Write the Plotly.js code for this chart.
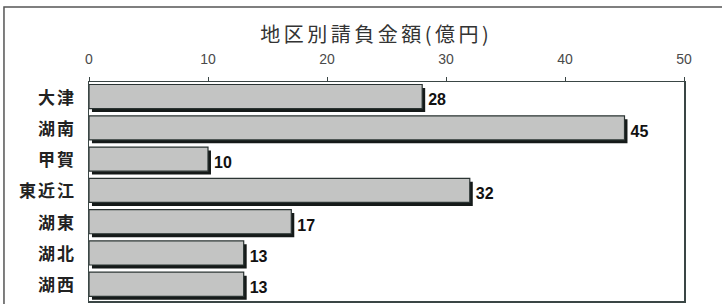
<!DOCTYPE html>
<html>
<head>
<meta charset="utf-8">
<script src="https://cdn.plot.ly/plotly-3.0.1.min.js"></script>
<style>
html,body{margin:0;padding:0;background:#fff;}
#chart{width:722px;height:304px;}
#chart .gtitle{letter-spacing:3.5px;}
#chart .ytick text{letter-spacing:2px;}
</style>
</head>
<body>
<div id="chart"></div>
<script>
const categories = ["大津", "湖南", "甲賀", "東近江", "湖東", "湖北", "湖西"];
const values = [28, 45, 10, 32, 17, 13, 13];
const labels = ["28", "45", "10", "32", "17", "13", "13"];
const chartTitle = "地区別請負金額(億円)";
const tickVals = [0, 10, 20, 30, 40, 50];

const cjk = '"Noto Sans CJK JP", "Noto Sans CJK SC", sans-serif';
const num = '"Liberation Sans", Arial, sans-serif';

const shadow = {
  type: 'bar', orientation: 'h',
  x: values, y: categories,
  xaxis: 'x', yaxis: 'y',
  width: 0.77, offset: -0.31,
  marker: {color: '#151a19', line: {width: 0}},
  text: labels, textposition: 'outside',
  textfont: {family: num, size: 16, color: '#111', weight: 'bold'},
  cliponaxis: false,
  hoverinfo: 'skip', showlegend: false
};
const main = {
  type: 'bar', orientation: 'h',
  x: values, y: categories,
  xaxis: 'x2', yaxis: 'y',
  width: 0.77, offset: -0.42,
  marker: {color: '#c3c4c3', line: {color: '#2b3433', width: 1.2}},
  hoverinfo: 'skip', showlegend: false
};

const layout = {
  width: 722, height: 304,
  margin: {l: 89, r: 38, t: 82, b: 3},
  paper_bgcolor: '#ffffff', plot_bgcolor: '#ffffff',
  showlegend: false,
  title: {text: chartTitle, x: 0.483, xref: 'paper', xanchor: 'center', y: 0.885, yref: 'container', yanchor: 'middle',
          font: {family: cjk, size: 20, color: '#333'}},
  xaxis: {range: [-0.25, 49.75], visible: false, fixedrange: true},
  xaxis2: {overlaying: 'x', side: 'top', range: [0, 50], tickvals: tickVals,
           ticks: 'outside', ticklen: 4, tickcolor: '#3a4645', tickwidth: 1,
           showline: true, linecolor: '#3a4645', linewidth: 1.5, mirror: true,
           showgrid: false, zeroline: false,
           tickfont: {family: num, size: 14, color: '#4a4a4a'}, ticklabelstandoff: 7},
  yaxis: {type: 'category', autorange: 'reversed', showline: true, linecolor: '#3a4645', linewidth: 1.5, mirror: true,
          showgrid: false, zeroline: false, ticks: '', ticklabelstandoff: 8,
          tickfont: {family: cjk, size: 17, color: '#222', weight: 'bold'}},
  shapes: [
    {type: 'rect', xref: 'paper', yref: 'paper', x0: -0.1429, x1: 1.2, y0: -0.3, y1: 1.3425,
     line: {color: '#555', width: 1.5}, fillcolor: 'rgba(0,0,0,0)', layer: 'below'}
  ]
};

Plotly.newPlot('chart', [shadow, main], layout, {staticPlot: true, displayModeBar: false});
</script>
</body>
</html>
